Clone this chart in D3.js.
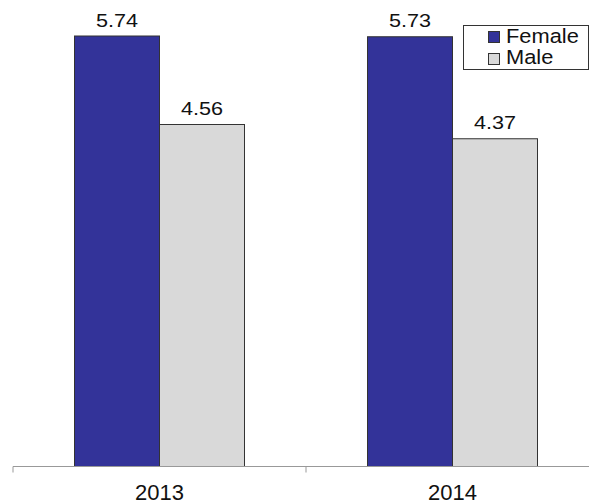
<!DOCTYPE html>
<html>
<head>
<meta charset="utf-8">
<script src="https://cdn.jsdelivr.net/npm/d3@7"></script>
<style>
  body { margin: 0; background: #fff; }
  text { font-family: "Liberation Sans", Arial, sans-serif; fill: #111; }
</style>
</head>
<body>
<svg id="chart"></svg>
<script>
var years = ["2013", "2014"];
var seriesNames = ["Female", "Male"];
var female = [5.74, 5.73];
var male = [4.56, 4.37];
var colors = ["#333399", "#d9d9d9"];

var width = 589, height = 504;
var svg = d3.select("#chart").attr("width", width).attr("height", height);

var baseY = 466.5;
var xscale = d3.scaleBand().domain(years).range([13, 599]);
var inner = d3.scaleBand().domain(seriesNames).range([0, 170]);
var yscale = d3.scaleLinear().domain([0, 5.74]).range([baseY, 36]);

var rows = [];
for (var i = 0; i < years.length; i++) {
  rows.push({ year: years[i], name: "Female", value: female[i], c: colors[0] });
  rows.push({ year: years[i], name: "Male", value: male[i], c: colors[1] });
}

function barX(d) {
  return xscale(d.year) + xscale.bandwidth() / 2 - 85 + inner(d.name);
}

// bars
svg.selectAll(".bar")
  .data(rows)
  .enter()
  .append("rect")
  .attr("class", "bar")
  .attr("x", barX)
  .attr("y", function (d) { return yscale(d.value); })
  .attr("width", inner.bandwidth())
  .attr("height", function (d) { return baseY - yscale(d.value); })
  .attr("fill", function (d) { return d.c; })
  .attr("stroke", "#333")
  .attr("stroke-width", 1);

// value labels (text in the original is a bit wide, so stretch it)
svg.selectAll(".lbl")
  .data(rows)
  .enter()
  .append("text")
  .attr("class", "lbl")
  .attr("transform", function (d) {
    return "translate(" + (barX(d) + inner.bandwidth() / 2) + "," + (yscale(d.value) - 9.5) + ") scale(1.2,1)";
  })
  .attr("text-anchor", "middle")
  .style("font-size", "18px")
  .text(function (d) { return d.value.toFixed(2); });

// x axis
var xaxis = d3.axisBottom(xscale).tickSize(0).tickPadding(18);
var gx = svg.append("g")
  .attr("transform", "translate(0," + baseY + ")")
  .call(xaxis);
gx.select(".domain").attr("stroke", "#999").attr("d", "M13,0H589");
gx.selectAll("text")
  .style("font-size", "22px")
  .style("font-family", "Liberation Sans, Arial, sans-serif")
  .attr("fill", "#111")
  .attr("dy", "0.71em");

// tick marks between categories
var bounds = [xscale("2013"), xscale("2014")];
svg.selectAll(".tk")
  .data(bounds)
  .enter()
  .append("line")
  .attr("x1", function (d) { return d; })
  .attr("x2", function (d) { return d; })
  .attr("y1", baseY)
  .attr("y2", baseY + 6)
  .attr("stroke", "#999");

// legend
var legend = svg.append("g").attr("transform", "translate(463,25)");
legend.append("rect")
  .attr("x", 0.5).attr("y", 0.5)
  .attr("width", 125).attr("height", 44)
  .attr("fill", "#fff").attr("stroke", "#333");
seriesNames.forEach(function (s, i) {
  legend.append("rect")
    .attr("x", 25.5).attr("y", 6.5 + i * 22)
    .attr("width", 11).attr("height", 11)
    .attr("fill", colors[i]).attr("stroke", "#333");
  legend.append("text")
    .attr("transform", "translate(43," + (18 + i * 21) + ") scale(1.12,1)")
    .style("font-size", "19.5px")
    .text(s);
});
</script>
</body>
</html>
